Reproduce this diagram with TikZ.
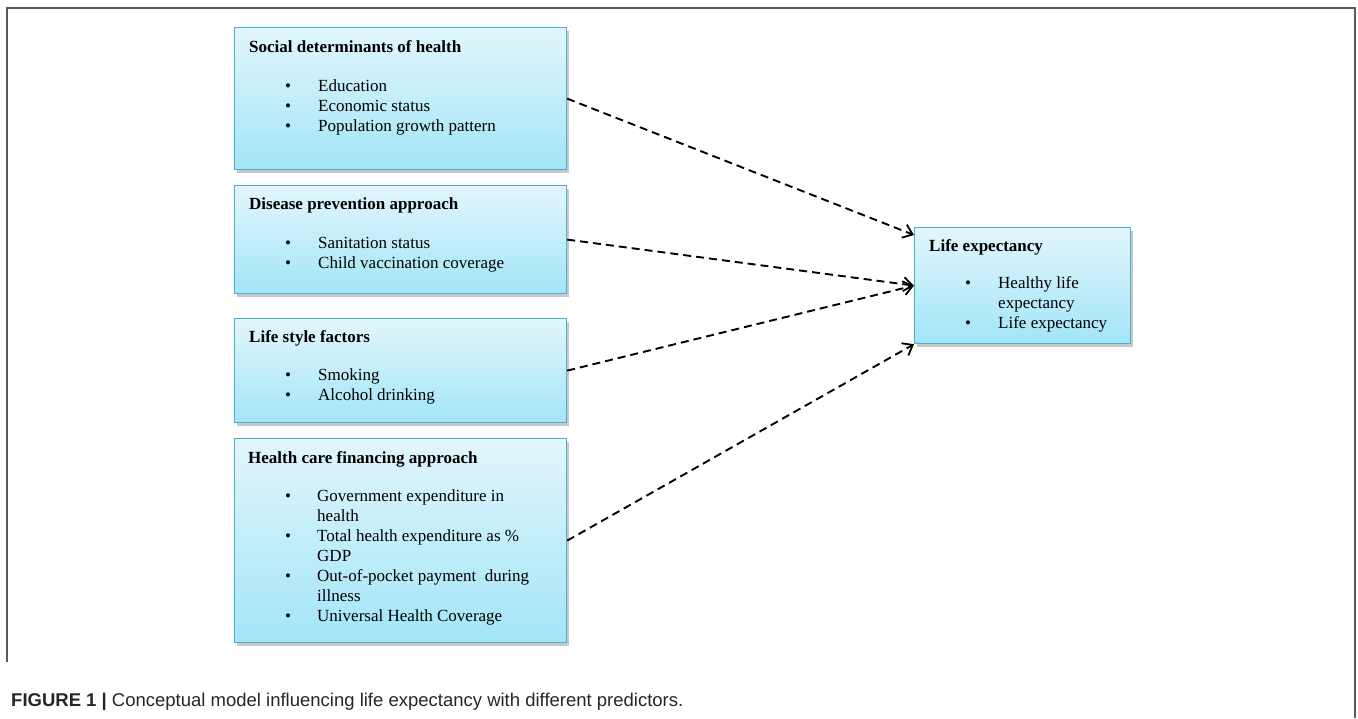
\documentclass[tikz,border=0pt]{standalone}
\usepackage{fontspec}
\setmainfont{Liberation Serif}
\newfontfamily\capfont{Liberation Sans}
\usetikzlibrary{arrows.meta,shadows,calc}
\definecolor{boxtop}{HTML}{E2F6FC}
\definecolor{boxbot}{HTML}{A2E5F8}
\definecolor{boxline}{HTML}{4AAFCA}
\definecolor{framecol}{HTML}{5A5A5A}
\begin{document}
\begin{tikzpicture}[x=1pt,y=-1pt,
  box/.style={draw=boxline, line width=1.2pt, top color=boxtop, bottom color=boxbot,
    anchor=north west, inner sep=0pt,
    drop shadow={shadow xshift=2pt, shadow yshift=-3pt, opacity=0.3, fill=black!70}},
  ttl/.style={anchor=base west, inner sep=0pt, font=\fontsize{17}{20}\selectfont\bfseries},
  itm/.style={anchor=base west, inner sep=0pt, font=\fontsize{17}{20}\selectfont},
  link/.style={draw=black, line width=1.9pt, dash pattern=on 8pt off 5pt,
    -{Straight Barb[length=9pt,width=14pt,line width=1.8pt]}},
  framestyle/.style={draw=framecol, line width=1.4pt}]
\useasboundingbox (0,0) rectangle (1358,718);
\draw[framestyle] (7,662) -- (7,8) -- (1355,8) -- (1355,718);

% boxes
\node[box, minimum width=332pt, minimum height=142pt] (s) at (234,27) {};
\node[box, minimum width=332pt, minimum height=108pt] (d) at (234,185) {};
\node[box, minimum width=332pt, minimum height=104pt] (l) at (234,318) {};
\node[box, minimum width=332pt, minimum height=204pt] (h) at (234,438) {};
\node[box, minimum width=216pt, minimum height=116pt] (le) at (914,227) {};

% box 1
\node[ttl] (st) at (249,52) {Social determinants of health};
\node[itm] (sb1) at (285,91) {\textbullet}; \node[itm] (si1) at (318,91) {Education};
\node[itm] (sb2) at (285,111) {\textbullet}; \node[itm] (si2) at (318,111) {Economic status};
\node[itm] (sb3) at (285,131) {\textbullet}; \node[itm] (si3) at (318,131) {Population growth pattern};

% box 2
\node[ttl] (dt) at (249,209) {Disease prevention approach};
\node[itm] (db1) at (285,248) {\textbullet}; \node[itm] (di1) at (318,248) {Sanitation status};
\node[itm] (db2) at (285,268) {\textbullet}; \node[itm] (di2) at (318,268) {Child vaccination coverage};

% box 3
\node[ttl] (lt) at (249,342) {Life style factors};
\node[itm] (lb1) at (285,380) {\textbullet}; \node[itm] (li1) at (318,380) {Smoking};
\node[itm] (lb2) at (285,400) {\textbullet}; \node[itm] (li2) at (318,400) {Alcohol drinking};

% box 4
\node[ttl] (ht) at (248,463) {Health care financing approach};
\node[itm] (hb1) at (285,501) {\textbullet}; \node[itm] (hi1) at (317,501) {Government expenditure in};
\node[itm] (hi1b) at (317,521) {health};
\node[itm] (hb2) at (285,541) {\textbullet}; \node[itm] (hi2) at (317,541) {Total health expenditure as \%};
\node[itm] (hi2b) at (317,561) {GDP};
\node[itm] (hb3) at (285,581) {\textbullet}; \node[itm] (hi3) at (317,581) {Out-of-pocket payment\ \ during};
\node[itm] (hi3b) at (317,601) {illness};
\node[itm] (hb4) at (285,621) {\textbullet}; \node[itm] (hi4) at (317,621) {Universal Health Coverage};

% life expectancy box
\node[ttl] (let) at (929,251) {Life expectancy};
\node[itm] (leb1) at (965,288) {\textbullet}; \node[itm] (lei1) at (998,288) {Healthy life};
\node[itm] (lei1b) at (998,308) {expectancy};
\node[itm] (leb2) at (965,328) {\textbullet}; \node[itm] (lei2) at (998,328) {Life expectancy};

% connectors
\coordinate (e1) at ([yshift=-8pt]le.north west);
\draw[link] (s.east) -- (e1);
\draw[link] (d.east) -- (le.west);
\draw[link] (l.east) -- (le.west);
\draw[link] (h.east) -- (le.south west);

% caption
\node[anchor=base west, inner sep=0pt, text=black!85,
  font=\capfont\fontsize{18.5}{22}\selectfont] (cap) at (11,706)
  {\textbf{FIGURE 1 |} Conceptual model influencing life expectancy with different predictors.};
\end{tikzpicture}
\end{document}
